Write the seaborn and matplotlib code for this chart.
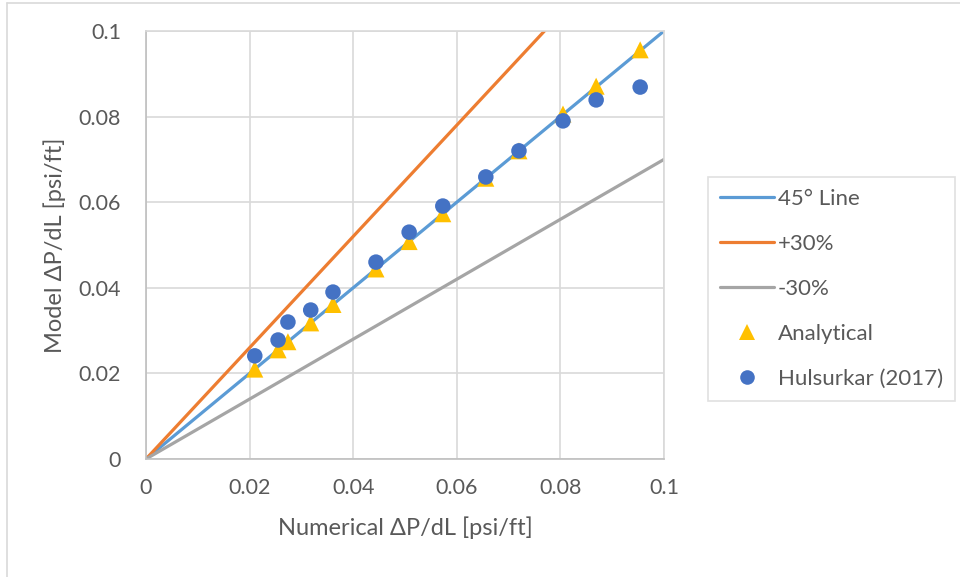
import matplotlib
matplotlib.use("Agg")
import matplotlib.pyplot as plt
import seaborn as sns
import pandas as pd
from matplotlib.lines import Line2D

# ---- data ----
line_x = [0.0, 0.1]
line_45 = [0.0, 0.1]
line_p30 = [0.0, 0.13]
line_m30 = [0.0, 0.07]

numerical = [0.0210, 0.0255, 0.0274, 0.0318, 0.0361, 0.0444, 0.0508,
             0.0573, 0.0656, 0.0720, 0.0805, 0.0869, 0.0954]
analytical = [0.0210, 0.0255, 0.0274, 0.0318, 0.0361, 0.0444, 0.0508,
              0.0573, 0.0656, 0.0720, 0.0806, 0.0871, 0.0956]
hulsurkar = [0.0241, 0.0278, 0.0320, 0.0348, 0.0390, 0.0460, 0.0530,
             0.0591, 0.0659, 0.0720, 0.0790, 0.0839, 0.0869]

ticks = [0, 0.02, 0.04, 0.06, 0.08, 0.1]
tick_labels = ["0", "0.02", "0.04", "0.06", "0.08", "0.1"]

# ---- style ----
sns.set_style("white")
plt.rcParams["font.family"] = ["Lato", "DejaVu Sans"]
text_c = "#595959"
grid_c = "#D9D9D9"

fig = plt.figure(figsize=(9.6, 5.77), dpi=100)
ax = fig.add_axes([146/960, 1-459/577, (664-146)/960, (459-31)/577])

lines_df = pd.DataFrame({"x": line_x * 3,
                         "y": line_45 + line_p30 + line_m30,
                         "s": ["45° Line"]*2 + ["+30%"]*2 + ["-30%"]*2})
sns.lineplot(data=lines_df, x="x", y="y", hue="s",
             palette={"45° Line": "#5B9BD5", "+30%": "#ED7D31", "-30%": "#A5A5A5"},
             linewidth=2.3, ax=ax, legend=False, zorder=2)

sns.scatterplot(x=numerical, y=analytical, marker="^", s=150, color="#FFC000",
                edgecolor="none", ax=ax, zorder=3)
sns.scatterplot(x=numerical, y=hulsurkar, marker="o", s=125, color="#4472C4",
                edgecolor="none", ax=ax, zorder=4)

ax.set_xlim(0, 0.1)
ax.set_ylim(0, 0.1)
ax.set_xticks(ticks)
ax.set_xticklabels(tick_labels)
ax.set_yticks(ticks)
ax.set_yticklabels(tick_labels)
ax.grid(True, color=grid_c, linewidth=1.2, zorder=0)
ax.set_axisbelow(True)
for sp in ax.spines.values():
    sp.set_color(grid_c)
    sp.set_linewidth(1.2)
ax.spines["left"].set_color("#BFBFBF")
ax.spines["bottom"].set_color("#BFBFBF")
ax.tick_params(axis="both", length=0, labelsize=15.5, labelcolor=text_c)
ax.tick_params(axis="y", pad=18)
ax.tick_params(axis="x", pad=14)
ax.set_xlabel("Numerical ΔP/dL [psi/ft]", fontsize=17, color=text_c, labelpad=13)
ax.set_ylabel("Model ΔP/dL [psi/ft]", fontsize=17, color=text_c, labelpad=9)

handles = [
    Line2D([], [], color="#5B9BD5", lw=2.3),
    Line2D([], [], color="#ED7D31", lw=2.3),
    Line2D([], [], color="#A5A5A5", lw=2.3),
    Line2D([], [], color="#FFC000", marker="^", ls="none", markersize=11, markeredgewidth=0),
    Line2D([], [], color="#4472C4", marker="o", ls="none", markersize=10.5, markeredgewidth=0),
]
labels = ["45° Line", "+30%", "-30%", "Analytical", "Hulsurkar (2017)"]
leg = fig.legend(handles, labels, loc="upper left",
                 bbox_to_anchor=(708/960, 1-177/577), bbox_transform=fig.transFigure,
                 borderaxespad=0, frameon=True, fancybox=False, fontsize=16,
                 handlelength=2.4, handletextpad=0.2, labelspacing=1.12,
                 borderpad=0.55)
leg.get_frame().set_edgecolor(grid_c)
leg.get_frame().set_linewidth(1.2)
for t in leg.get_texts():
    t.set_color(text_c)

# chart-area border
fig.add_artist(Line2D([7/960, 7/960], [0, 1-2.5/577], transform=fig.transFigure,
                      color=grid_c, lw=1.2))
fig.add_artist(Line2D([7/960, 1], [1-2.5/577, 1-2.5/577], transform=fig.transFigure,
                      color=grid_c, lw=1.2))

fig.savefig("out.png", dpi=100)
